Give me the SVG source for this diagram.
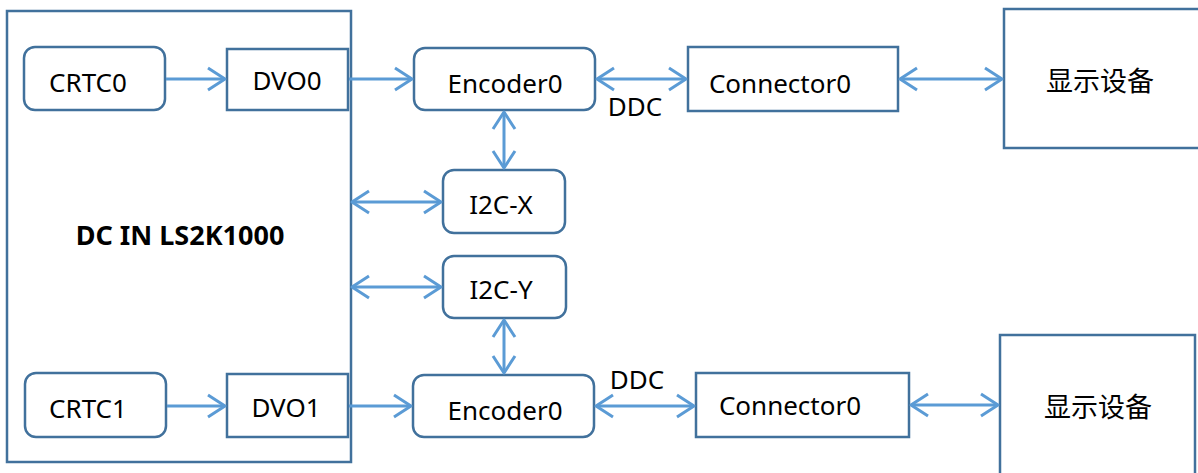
<svg xmlns="http://www.w3.org/2000/svg" width="1198" height="473" viewBox="0 0 1198 473">
<style>
.box{fill:#fff;stroke:#41719C;stroke-width:2.5}
.t{font-family:"Noto Sans","Liberation Sans",sans-serif;font-size:26px;fill:#000;text-anchor:middle}
.b{font-weight:bold;font-size:27px}
.cjk{font-family:"Noto Sans CJK SC","Noto Sans",sans-serif;font-size:27px;fill:#000;text-anchor:middle;dominant-baseline:central}
.c{fill:none;stroke:#5B9BD5;stroke-width:3}
.one{marker-end:url(#ah)}
.two{marker-start:url(#ah);marker-end:url(#ah)}
</style>
<defs>
<marker id="ah" markerUnits="userSpaceOnUse" viewBox="-22 -14 26 28" refX="0" refY="0" markerWidth="26" markerHeight="28" orient="auto-start-reverse">
<path d="M-17,-11 L0,0 L-17,11" fill="none" stroke="#5B9BD5" stroke-width="3" stroke-linejoin="round"/>
</marker>
</defs>
<rect width="1198" height="473" fill="#fff"/>
<g id="dc">
<rect class="box" x="7" y="11" width="344" height="451"/>
<text class="t b" x="180" y="245">DC IN LS2K1000</text>
</g>
<g id="crtc0"><rect class="box" x="24" y="47" width="141" height="63" rx="11"/><text class="t" x="88" y="92">CRTC0</text></g>
<g id="dvo0"><rect class="box" x="227" y="49" width="121" height="61"/><text class="t" x="287" y="90">DVO0</text></g>
<g id="encoder0-top"><rect class="box" x="414" y="48" width="181" height="62" rx="11"/><text class="t" x="505" y="93">Encoder0</text></g>
<g id="connector0-top"><rect class="box" x="688" y="47" width="210" height="64"/><text class="t" x="780" y="93">Connector0</text></g>
<g id="display-top"><rect class="box" x="1004" y="9" width="200" height="139"/><text class="cjk" x="1100" y="79">显示设备</text></g>
<g id="i2c-x"><rect class="box" x="443" y="170" width="122" height="63" rx="11"/><text class="t" x="501" y="214">I2C-X</text></g>
<g id="i2c-y"><rect class="box" x="443" y="256" width="123" height="62" rx="11"/><text class="t" x="501" y="299">I2C-Y</text></g>
<g id="crtc1"><rect class="box" x="25" y="373" width="141" height="64" rx="11"/><text class="t" x="88" y="418">CRTC1</text></g>
<g id="dvo1"><rect class="box" x="227" y="374" width="121" height="63"/><text class="t" x="286" y="417">DVO1</text></g>
<g id="encoder0-bottom"><rect class="box" x="413" y="375" width="181" height="62" rx="11"/><text class="t" x="505" y="420">Encoder0</text></g>
<g id="connector0-bottom"><rect class="box" x="696" y="373" width="213" height="64"/><text class="t" x="790" y="415">Connector0</text></g>
<g id="display-bottom"><rect class="box" x="1000" y="335" width="195" height="145"/><text class="cjk" x="1098" y="405">显示设备</text></g>
<g id="connectors">
<line class="c one" x1="166" y1="79" x2="225" y2="79"/>
<line class="c one" x1="349" y1="79" x2="412" y2="79"/>
<line class="c two" x1="597" y1="79" x2="686" y2="79"/>
<line class="c two" x1="900" y1="79" x2="1002" y2="79"/>
<line class="c two" x1="504" y1="112" x2="504" y2="168"/>
<line class="c two" x1="352" y1="202" x2="441" y2="202"/>
<line class="c two" x1="352" y1="287" x2="441" y2="287"/>
<line class="c two" x1="504" y1="320" x2="504" y2="373"/>
<line class="c one" x1="167" y1="406" x2="225" y2="406"/>
<line class="c one" x1="349" y1="406" x2="411" y2="406"/>
<line class="c two" x1="596" y1="406" x2="694" y2="406"/>
<line class="c two" x1="911" y1="405" x2="998" y2="405"/>
<text class="t" x="635" y="116">DDC</text>
<text class="t" x="637" y="389">DDC</text>
</g>
</svg>
